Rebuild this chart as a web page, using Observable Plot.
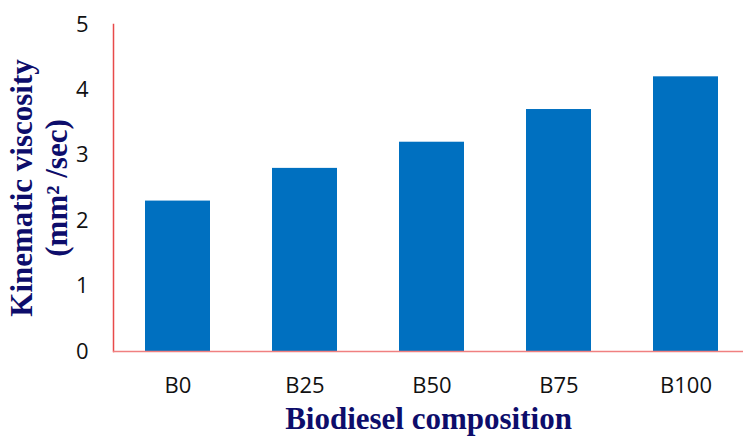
<!DOCTYPE html>
<html>
<head>
<meta charset="utf-8">
<script src="https://cdn.jsdelivr.net/npm/d3@7"></script>
<script src="https://cdn.jsdelivr.net/npm/@observablehq/plot@0.6"></script>
<style>
  html, body { margin: 0; padding: 0; background: #fff; }
</style>
</head>
<body>
<div id="chart"></div>
<script>
const categories = ["B0", "B25", "B50", "B75", "B100"];
const viscosity = [2.3, 2.8, 3.2, 3.7, 4.2];
const yTicks = [0, 1, 2, 3, 4, 5];
const yTitleLines = ["Kinematic viscosity", "(mm² /sec)"];
const xTitle = "Biodiesel composition";

const data = categories.map((c, i) => ({cat: c, val: viscosity[i]}));
const navy = "#0d0d6b";
const titleFont = "'Liberation Serif', serif";

const chart = Plot.plot({
  width: 743,
  height: 437,
  marginLeft: 113,
  marginRight: 0,
  marginTop: 24,
  marginBottom: 86,
  style: {fontFamily: "'Open Sans', sans-serif", fontSize: "22px", color: "#111", background: "#fff"},
  x: {domain: categories, range: [113, 750], paddingInner: 0.49, paddingOuter: 0.245},
  y: {domain: [0, 5]},
  marks: [
    Plot.barY(data, {x: "cat", y: "val", fill: "#0070C0"}),
    Plot.frame({anchor: "left", stroke: "#e84a4a", strokeWidth: 1.5}),
    Plot.ruleY([0], {stroke: "#f08080", strokeWidth: 1.5}),
    Plot.axisY({ticks: yTicks, tickFormat: d3.format("d"), tickSize: 0, tickPadding: 25, label: null, fontSize: 22}),
    Plot.axisX({tickSize: 0, tickPadding: 26, label: null, fontSize: 22}),
    Plot.text([yTitleLines[0]], {frameAnchor: "left", dx: -91, rotate: -90, text: d => d,
      textAnchor: "middle", lineAnchor: "middle",
      fontFamily: titleFont, fontWeight: "bold", fontSize: 31, fill: navy}),
    Plot.text([yTitleLines[1]], {frameAnchor: "left", dx: -56, rotate: -90, text: d => d,
      textAnchor: "middle", lineAnchor: "middle",
      fontFamily: titleFont, fontWeight: "bold", fontSize: 31, fill: navy}),
    Plot.text([xTitle], {frameAnchor: "bottom", dy: 68, text: d => d,
      textAnchor: "middle", lineAnchor: "middle",
      fontFamily: titleFont, fontWeight: "bold", fontSize: 31, fill: navy})
  ]
});
document.getElementById("chart").appendChild(chart);
</script>
</body>
</html>
